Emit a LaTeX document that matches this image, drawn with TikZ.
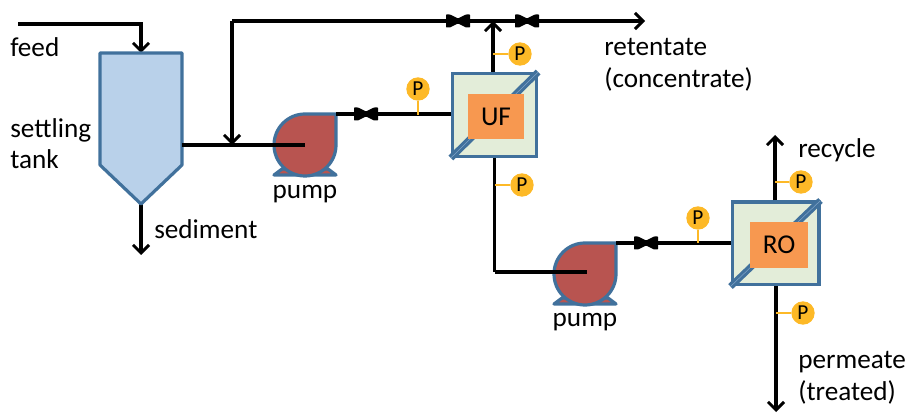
\documentclass[tikz,border=0pt]{standalone}
\usepackage{fontspec}
\setmainfont{Carlito}
\usetikzlibrary{arrows.meta,positioning}
\definecolor{outline}{HTML}{41719C}
\definecolor{tankfill}{HTML}{B9D1EA}
\definecolor{pumpfill}{HTML}{B85450}
\definecolor{unitfill}{HTML}{E3EDD9}
\definecolor{corefill}{HTML}{F79850}
\definecolor{gauge}{HTML}{FDB927}
\definecolor{stripe}{HTML}{7FA3C7}
\tikzset{
  pipe/.style={draw=black, line width=2.5pt},
  thinpipe/.style={draw=black, line width=2.3pt},
  flow/.style={pipe, -{Straight Barb[length=6pt,width=12pt,line width=2.2pt]}},
  label/.style={inner sep=0pt, align=left, font=\fontsize{20.4}{23.7}\selectfont},
  unit/.style={draw=outline, fill=unitfill, line width=2.5pt, minimum width=63pt, minimum height=62pt, inner sep=0pt},
  core/.style={fill=corefill, inner sep=0pt, font=\fontsize{20.4}{24}\selectfont},
  gaugep/.style={circle, fill=gauge, minimum size=17.5pt, inner sep=0pt, font=\fontsize{16}{18}\selectfont},
  stem/.style={draw=gauge, line width=1.3pt},
  membrane/.style={draw=outline, double=stripe, double distance=0.4pt, line width=2.3pt},
  pump/.pic={
    \draw[outline, fill=pumpfill, line width=2.4pt, line join=round] (-31,30) -- (-23,24) -- (23,24) -- (31,30) -- cycle;
    \draw[outline, fill=pumpfill, line width=2.4pt, line join=round] (31,-31) -- (0,-31) arc[start angle=270, end angle=0, radius=31] -- cycle;
    \coordinate (-out) at (31,-31);
  },
  valve/.pic={
    \fill[black, rounded corners=0.5pt] (-12,-6.5) -- (-8,-6.5) -- (0,-2.5) -- (8,-6.5) -- (12,-6.5) -- (12,6.5) -- (8,6.5) -- (0,2.5) -- (-8,6.5) -- (-12,6.5) -- cycle;
  }
}
\begin{document}
\begin{tikzpicture}[x=0.75pt, y=-0.75pt]
    \useasboundingbox (0,0) rectangle (907,413);

    % Main units
    \node[unit] (uf) at (494.5,115) {};
    \node[unit, minimum width=65pt] (ro) at (775.5,243.5) {};

    % Named points on the pipes
    \coordinate (feedin) at (18,24);
    \coordinate (tanktop) at (141,53);
    \coordinate (tanktip) at (141,204);
    \coordinate (tankout) at (182,145);
    \coordinate (sedend) at (141,255);
    \coordinate (pumpinA) at (305,145);
    \coordinate (pumpinB) at (587,272);
    \coordinate (tee) at (232,145);
    \coordinate (retstart) at (232,21);
    \coordinate (retend) at (645,21);
    \coordinate (ufjoin) at (493,21);
    \coordinate (recend) at (775,135);
    \coordinate (perend) at (776,412);

    % Draw pipes
    \draw[flow] (feedin) -| (tanktop);
    \draw[flow] (tanktip) -- (sedend);
    \draw[flow] (retstart) -- (tee);
    \draw[flow] (retstart) -- (retend);
    \draw[flow] (uf.north -| ufjoin) -- (ufjoin);
    \draw[pipe] (uf.south) -- (uf.south |- pumpinB);
    \draw[flow] (ro.north -| recend) -- (recend);
    \draw[flow] (ro.south -| perend) -- (perend);

    % Draw tank and pumps
    \draw[outline, fill=tankfill, line width=2.4pt, line join=round] (100,53) -- (182,53) -- (182,165) -- (tanktip) -- (100,165) -- cycle;
    \pic (pumpA) at (305,145) {pump};
    \pic (pumpB) at (585,274) {pump};
    \draw[thinpipe] (tankout) -- (pumpinA);
    \draw[pipe] (uf.south |- pumpinB) -- (pumpinB);
    \draw[thinpipe] (pumpA-out) -- (pumpA-out -| uf.west);
    \draw[thinpipe] (pumpB-out) -- (pumpB-out -| ro.west);

    % Draw valves
    \foreach \x/\y in {458/21, 527/21, 366/114, 646/243}
      \pic at (\x,\y) {valve};

    % Draw membranes and cores
    \draw[membrane] (uf.south west) -- (uf.north east);
    \draw[membrane] (ro.south west) -- (ro.north east);
    \node[core, minimum width=42pt, minimum height=34pt] (ufcore) at (496,116.5) {UF};
    \node[core, minimum width=43.5pt, minimum height=34.5pt] (rocore) at (779,245) {RO};

    % Draw gauges
    \node[gaugep] (pa) at (418,89) {P};
    \node[gaugep] (pb) at (520,54) {P};
    \node[gaugep] (pc) at (522,185) {P};
    \node[gaugep] (pd) at (698,218) {P};
    \node[gaugep] (pe) at (801,182) {P};
    \node[gaugep] (pf) at (803,313) {P};
    \draw[stem] (pa) -- (pa |- uf.west);
    \draw[stem] (pd) -- (pd |- ro.west);
    \draw[stem] (pb) -- (pb -| ufjoin);
    \draw[stem] (pc) -- (pc -| uf.south);
    \draw[stem] (pe) -- (pe -| recend);
    \draw[stem] (pf) -- (pf -| perend);

    % Labels
    \node[label, anchor=west] (feedlabel) at (10,47) {feed};
    \node[label, anchor=west] (tanklabel) at (10,143.5) {settling\\tank};
    \node[label, anchor=west] (sedlabel) at (154,229) {sediment};
    \node[label] (pumplabelA) at (305,194) {pump};
    \node[label] (pumplabelB) at (585,322) {pump};
    \node[label, anchor=west] (retlabel) at (604,65) {retentate\\(concentrate)};
    \node[label, anchor=west] (reclabel) at (798,150) {recycle};
    \node[label, anchor=west] (perlabel) at (798,377.5) {permeate\\(treated)};
\end{tikzpicture}
\end{document}
